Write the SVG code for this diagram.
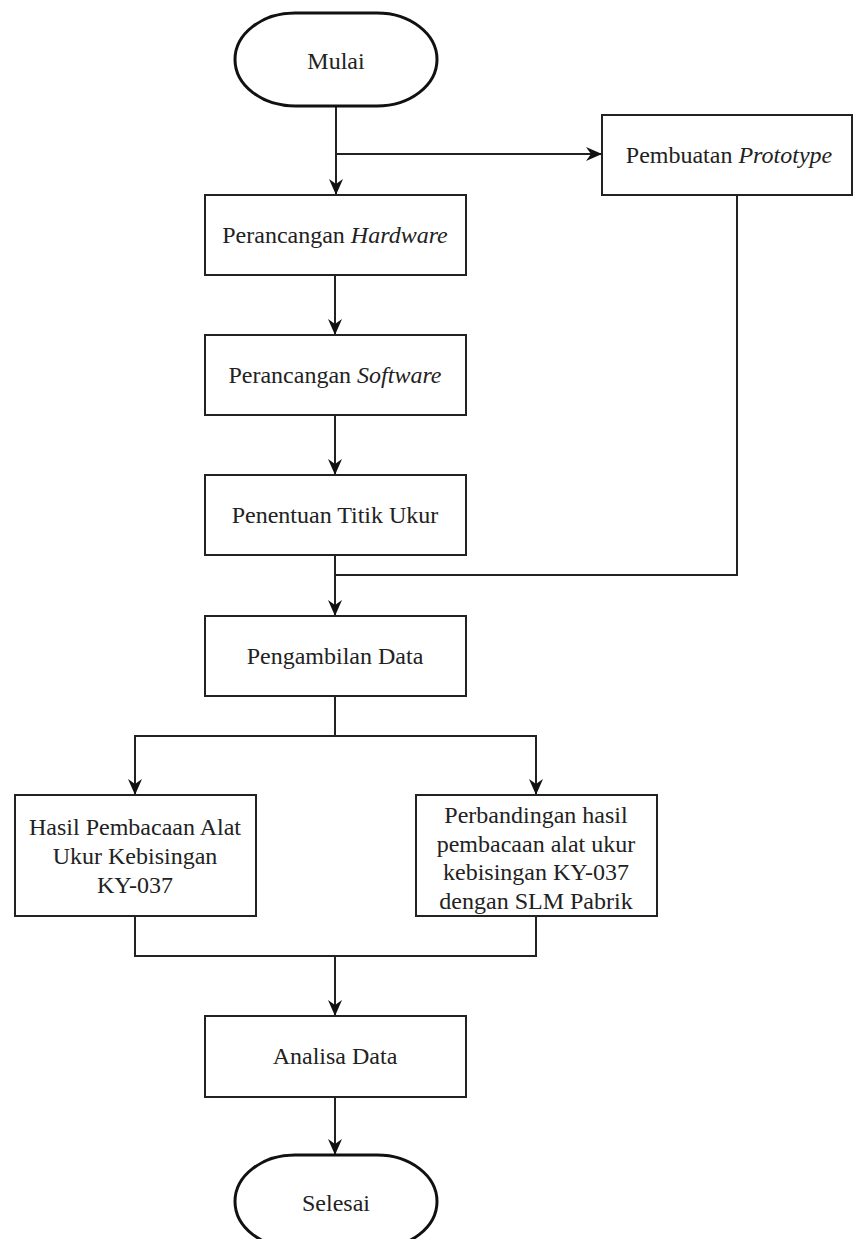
<svg xmlns="http://www.w3.org/2000/svg" width="854" height="1239" viewBox="0 0 854 1239">
<style>
.box{fill:#fff;stroke:#222;stroke-width:2}
.term{fill:#fff;stroke:#111;stroke-width:3}
text{font-family:'Liberation Serif','Times New Roman',Times,serif;font-size:24px;fill:#222;text-anchor:middle}
.i{font-style:italic}
.c{fill:none;stroke:#222;stroke-width:2}
</style>
<defs>
<marker id="arr" markerUnits="userSpaceOnUse" markerWidth="16" markerHeight="16" refX="16" refY="8" orient="auto">
<path d="M0,1 L16,8 L0,15 L5,8 z" fill="#111"/>
</marker>
</defs>
<rect width="854" height="1239" fill="#fff"/>
<g id="connectors">
<path class="c" d="M336,106 V195" marker-end="url(#arr)"/>
<path class="c" d="M336,154 H602" marker-end="url(#arr)"/>
<path class="c" d="M335,275 V335" marker-end="url(#arr)"/>
<path class="c" d="M335,415 V475" marker-end="url(#arr)"/>
<path class="c" d="M737,195 V575 H335"/>
<path class="c" d="M335,555 V616" marker-end="url(#arr)"/>
<path class="c" d="M335,696 V736"/>
<path class="c" d="M335,736 H135 V795" marker-end="url(#arr)"/>
<path class="c" d="M335,736 H536 V795" marker-end="url(#arr)"/>
<path class="c" d="M135,916 V956 H536 V916"/>
<path class="c" d="M335,956 V1016" marker-end="url(#arr)"/>
<path class="c" d="M335,1097 V1155" marker-end="url(#arr)"/>
</g>
<g id="mulai">
<rect class="term" x="235" y="13" width="202" height="93" rx="60" ry="46.5"/>
<text x="336" y="69" font-family="Liberation Serif, serif">Mulai</text>
</g>
<g id="pembuatan">
<rect class="box" x="602" y="115" width="250" height="80"/>
<text x="729" y="163" font-family="Liberation Serif, serif">Pembuatan <tspan class="i">Prototype</tspan></text>
</g>
<g id="hardware">
<rect class="box" x="205" y="195" width="261" height="80"/>
<text x="335" y="243" font-family="Liberation Serif, serif">Perancangan <tspan class="i">Hardware</tspan></text>
</g>
<g id="software">
<rect class="box" x="205" y="335" width="261" height="80"/>
<text x="335" y="383" font-family="Liberation Serif, serif">Perancangan <tspan class="i">Software</tspan></text>
</g>
<g id="penentuan">
<rect class="box" x="205" y="475" width="261" height="80"/>
<text x="335" y="523" font-family="Liberation Serif, serif">Penentuan Titik Ukur</text>
</g>
<g id="pengambilan">
<rect class="box" x="205" y="616" width="261" height="80"/>
<text x="335" y="664" font-family="Liberation Serif, serif">Pengambilan Data</text>
</g>
<g id="hasil" font-family="Liberation Serif, serif">
<rect class="box" x="15" y="795" width="241" height="121"/>
<text x="135" y="835">Hasil Pembacaan Alat</text>
<text x="135" y="864">Ukur Kebisingan</text>
<text x="135" y="893">KY-037</text>
</g>
<g id="perbandingan" font-family="Liberation Serif, serif">
<rect class="box" x="416" y="795" width="241" height="121"/>
<text x="536" y="823">Perbandingan hasil</text>
<text x="536" y="852">pembacaan alat ukur</text>
<text x="536" y="880">kebisingan KY-037</text>
<text x="536" y="909">dengan SLM Pabrik</text>
</g>
<g id="analisa">
<rect class="box" x="205" y="1016" width="261" height="81"/>
<text x="335" y="1064" font-family="Liberation Serif, serif">Analisa Data</text>
</g>
<g id="selesai">
<rect class="term" x="235" y="1155" width="202" height="93" rx="60" ry="46.5"/>
<text x="336" y="1211" font-family="Liberation Serif, serif">Selesai</text>
</g>
</svg>
